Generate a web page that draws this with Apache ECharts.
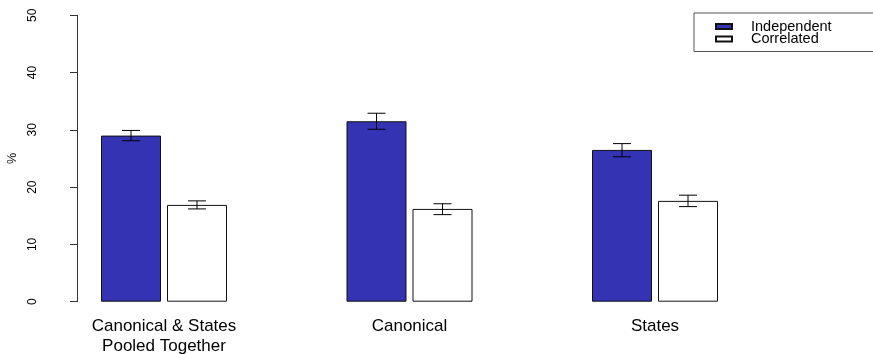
<!DOCTYPE html>
<html>
<head>
<meta charset="utf-8">
<script src="https://cdn.jsdelivr.net/npm/echarts@6/dist/echarts.min.js"></script>
<style>
html,body{margin:0;padding:0;background:#fff;}
#chart{width:873px;height:354px;}
</style>
</head>
<body>
<div id="chart"></div>
<script>
// ---- data ----
const categories = ['Canonical & States\nPooled Together', 'Canonical', 'States'];
const seriesNames = ['Independent', 'Correlated'];
const independent = [29.0, 31.5, 26.5];
const independentLow = [28.1, 30.1, 25.3];
const independentHigh = [29.9, 32.9, 27.6];
const correlated = [16.9, 16.2, 17.6];
const correlatedLow = [16.2, 15.2, 16.6];
const correlatedHigh = [17.6, 17.1, 18.6];
const yTicks = [0, 10, 20, 30, 40, 50];

// ---- layout / style constants ----
const BAR_W = 60;
const BAR_GAP_PX = 6;
const CAP_HALF = 9;
const FONT = '"Liberation Sans", Arial, Helvetica, sans-serif';

const chart = echarts.init(document.getElementById('chart'), null, {renderer: 'canvas'});

function errSeries(low, high, offset) {
  return {
    type: 'custom',
    silent: true,
    z: 5,
    data: low.map((l, i) => [i, l, high[i]]),
    renderItem: function (params, api) {
      const i = api.value(0);
      const p1 = api.coord([i, api.value(1)]);
      const p2 = api.coord([i, api.value(2)]);
      const x = p1[0] + offset;
      const st = {stroke: '#000', lineWidth: 1};
      return {
        type: 'group',
        children: [
          {type: 'line', shape: {x1: x, y1: p1[1], x2: x, y2: p2[1]}, style: st},
          {type: 'line', shape: {x1: x - CAP_HALF, y1: p1[1], x2: x + CAP_HALF, y2: p1[1]}, style: st},
          {type: 'line', shape: {x1: x - CAP_HALF, y1: p2[1], x2: x + CAP_HALF, y2: p2[1]}, style: st}
        ]
      };
    }
  };
}

const off = (BAR_W + BAR_GAP_PX) / 2;

chart.setOption({
  animation: false,
  backgroundColor: '#fff',
  textStyle: {fontFamily: FONT},
  grid: {left: 41.25, right: 95.25, top: 15.3, bottom: 52.3, containLabel: false, outerBoundsMode: 'none'},
  legend: {
    data: seriesNames,
    orient: 'vertical',
    left: 694,
    top: 13,
    padding: [6, 60, 5, 21],
    itemGap: -2.5,
    itemWidth: 16,
    itemHeight: 5,
    icon: 'rect',
    borderColor: '#555',
    borderWidth: 1,
    borderRadius: 0,
    textStyle: {fontFamily: FONT, fontSize: 14.5, color: '#000', padding: [0, 0, 0, 14]}
  },
  xAxis: {
    type: 'category',
    data: categories,
    axisLine: {show: false},
    axisTick: {show: false},
    axisLabel: {fontFamily: FONT, fontSize: 17, color: '#000', margin: 15, lineHeight: 19.5, interval: 0}
  },
  yAxis: {
    type: 'value',
    min: yTicks[0],
    max: yTicks[yTicks.length - 1],
    interval: 10,
    offset: -35.75,
    name: '%',
    nameLocation: 'middle',
    nameGap: 49,
    nameTextStyle: {fontFamily: FONT, fontSize: 12.5, color: '#000'},
    axisLine: {show: true, lineStyle: {color: '#333', width: 1}},
    axisTick: {show: true, length: 7, lineStyle: {color: '#333'}},
    axisLabel: {rotate: 90, margin: 38, fontFamily: FONT, fontSize: 12, color: '#000'},
    splitLine: {show: false}
  },
  series: [
    {
      name: seriesNames[0], type: 'bar', data: independent,
      barWidth: BAR_W, barGap: (BAR_GAP_PX / BAR_W * 100) + '%',
      itemStyle: {color: '#3333b3', borderColor: '#111', borderWidth: 1}
    },
    {
      name: seriesNames[1], type: 'bar', data: correlated,
      barWidth: BAR_W,
      itemStyle: {color: '#ffffff', borderColor: '#111', borderWidth: 1}
    },
    errSeries(independentLow, independentHigh, -off),
    errSeries(correlatedLow, correlatedHigh, off)
  ]
});
</script>
</body>
</html>
